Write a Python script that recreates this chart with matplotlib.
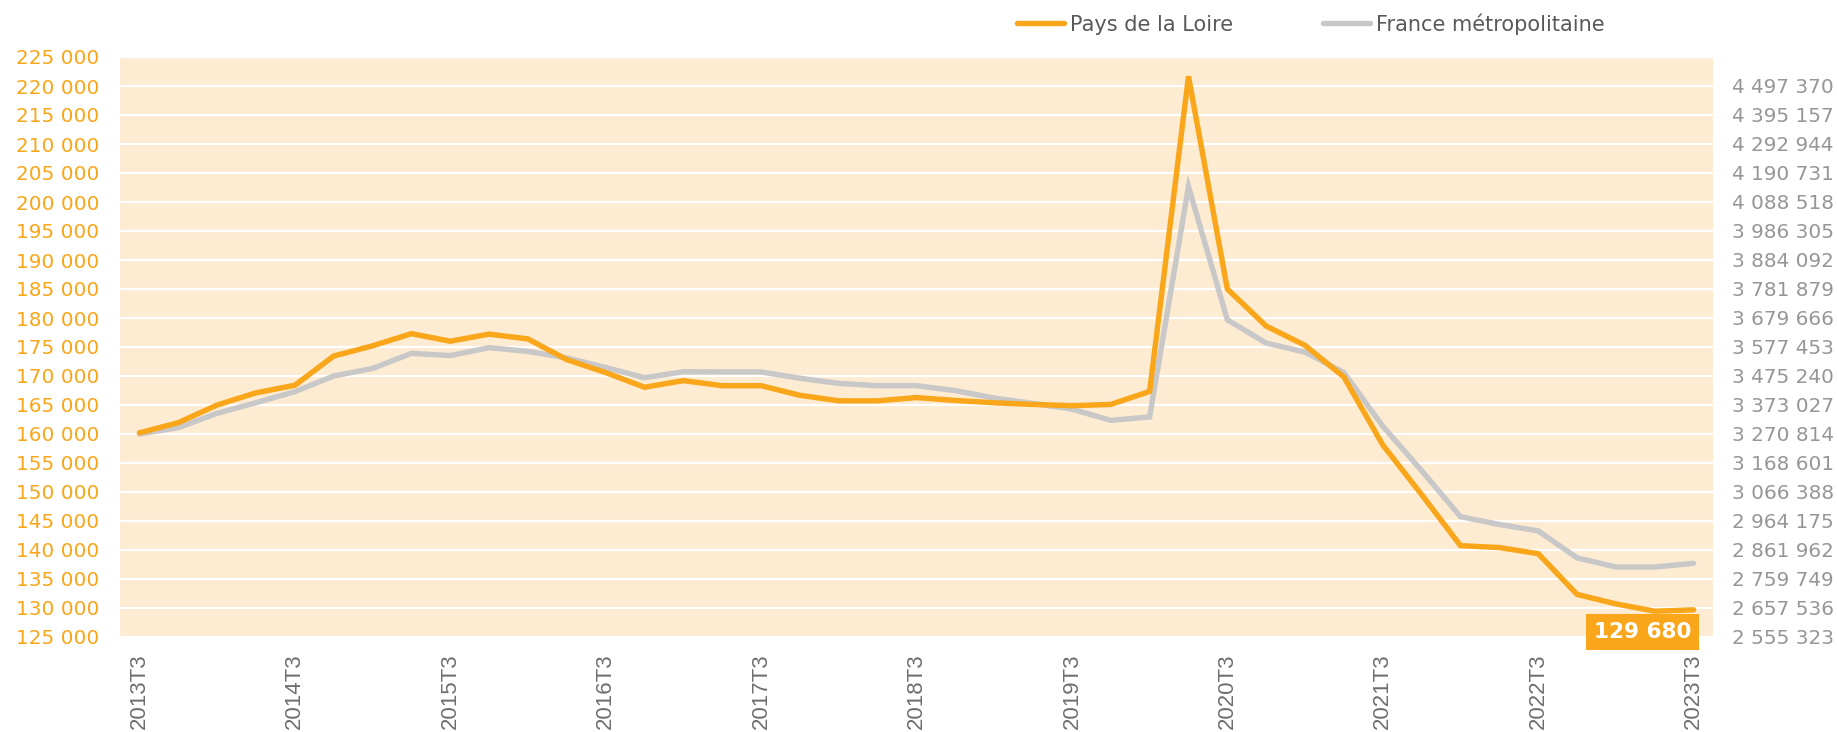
""" emploi trimestriel : Pays de la Loire vs France metropolitaine """
import matplotlib
matplotlib.use('Agg')
import matplotlib.pyplot as plt
import matplotlib.ticker as mticker

# data
quarters = [f'{y}T{q}' for y in range(2013, 2024) for q in (1, 2, 3, 4)][2:-1]   # 2013T3 .. 2023T3

pays_loire = [160200, 161950, 165000, 167100, 168400, 173450, 175200, 177300, 176000, 177220,
              176390, 172820, 170590, 168060, 169200, 168330, 168330, 166670, 165720, 165720,
              166280, 165780, 165380, 165100, 164880, 165100, 167340, 221670, 185000, 178610,
              175280, 169830, 158110, 149560, 140750, 140420, 139370, 132350, 130710, 129450,
              129680]

france_metro = [3270814, 3293300, 3343800, 3381200, 3420100, 3475240, 3501800, 3555000, 3547400, 3575000,
                3561900, 3539000, 3505300, 3469300, 3490100, 3489500, 3489500, 3467300, 3449100, 3441100,
                3441100, 3423700, 3397600, 3378500, 3358500, 3318800, 3330900, 4142700, 3673500, 3591200,
                3559400, 3487300, 3298400, 3141800, 2979500, 2951900, 2929400, 2834400, 2801900, 2801900,
                2814900]

left_ticks = list(range(125000, 225001, 5000))
right_ticks = [2555323 + i * 102213 for i in range(20)]
ratio = 3270814 / 160000      # right axis = left axis scaled on the first value

ORANGE = '#F9A61A'
GREY = '#C8C8C8'
BG = '#FDEBD2'

plt.rcParams['font.family'] = 'DejaVu Sans'

fig = plt.figure(figsize=(18.37, 7.32), dpi=100)
ax = fig.add_axes([120 / 1837, 95 / 732, 1593 / 1837, 580 / 732])
ax2 = ax.twinx()

x = list(range(len(quarters)))
ax.set_facecolor(BG)
ax.set_zorder(ax2.get_zorder() - 1)
ax2.patch.set_visible(False)

# lines: France below, Pays de la Loire on top
l2, = ax2.plot(x, france_metro, color=GREY, lw=3.9, solid_capstyle='round',
               solid_joinstyle='miter', label='France métropolitaine', zorder=2)
ax3 = fig.add_axes(ax.get_position(), sharex=ax, sharey=ax, frameon=False)
ax3.set_zorder(ax2.get_zorder() + 1)
ax3.patch.set_visible(False)
l1, = ax3.plot(x, pays_loire, color=ORANGE, lw=3.9, solid_capstyle='round',
               solid_joinstyle='miter', label='Pays de la Loire', zorder=3)
ax3.axis('off')

ax.set_xlim(-0.5, len(quarters) - 0.5)
ax.set_ylim(125000, 225000)
ax2.set_ylim(125000 * ratio, 225000 * ratio)

# grid
ax.set_yticks(left_ticks)
ax.yaxis.grid(True, color='white', lw=1.6)
ax.set_axisbelow(True)
fmt = mticker.FuncFormatter(lambda v, p: f'{int(round(v)):,}'.replace(',', ' '))
ax.yaxis.set_major_formatter(fmt)
ax.tick_params(axis='y', length=0, pad=15, labelsize=14.4, labelcolor=ORANGE)

ax2.set_yticks(right_ticks)
ax2.yaxis.set_major_formatter(fmt)
ax2.tick_params(axis='y', length=0, pad=14, labelsize=14.4, labelcolor='#969696')

lab_idx = [i for i, q in enumerate(quarters) if q.endswith('T3')]
ax.set_xticks(lab_idx)
ax.set_xticklabels([quarters[i] for i in lab_idx], rotation=90, fontsize=16,
                   family='Liberation Sans', color='#6E6E6E')
ax.tick_params(axis='x', length=0, pad=12)

for a in (ax, ax2):
    for s in a.spines.values():
        s.set_visible(False)

# last value label
ax3.annotate(f'{pays_loire[-1]:,}'.replace(',', ' '), xy=(x[-1], pays_loire[-1]),
             xytext=(-2, -22), textcoords='offset pixels', ha='right', va='center',
             fontsize=15.5, fontweight='bold', color='white',
             bbox=dict(boxstyle='square,pad=0.36', fc=ORANGE, ec='none'))

fig.legend(handles=[l1, l2], loc='center left', bbox_to_anchor=(1017 / 1837, 1 - 24 / 732),
           ncol=2, frameon=False, fontsize=15, handlelength=2.25, handletextpad=0.3,
           columnspacing=4.3, borderpad=0, borderaxespad=0, labelcolor='#595959')

fig.savefig('out.png', dpi=100, facecolor='white')
